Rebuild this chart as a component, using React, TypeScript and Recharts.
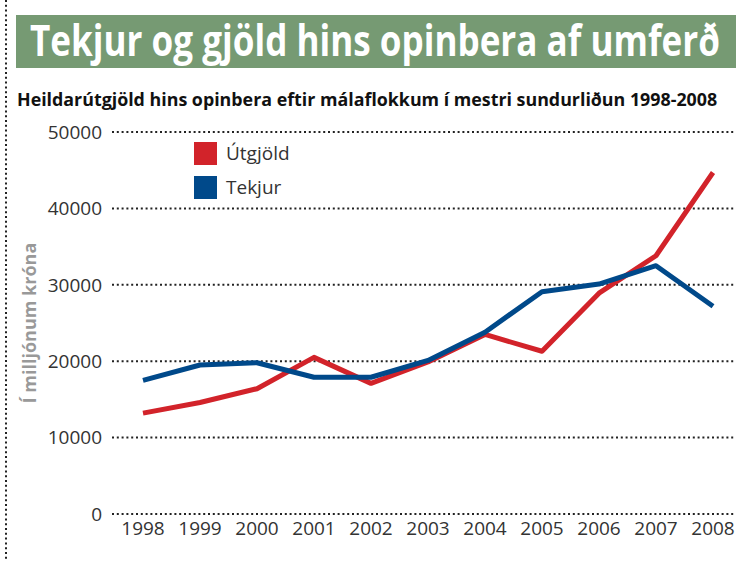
import { useLayoutEffect, useRef, useState } from "react"
import { LineChart, Line, XAxis, YAxis, CartesianGrid } from "recharts"

const years = ["1998", "1999", "2000", "2001", "2002", "2003", "2004", "2005", "2006", "2007", "2008"]
const utgjold = [13200, 14600, 16400, 20500, 17100, 19900, 23500, 21300, 28900, 33800, 44700]
const tekjur = [17500, 19500, 19800, 17900, 17900, 20100, 23800, 29100, 30100, 32500, 27200]
const yTicks = [0, 10000, 20000, 30000, 40000, 50000]

const series = [
  { key: "utgjold", name: "Útgjöld", color: "#d2232a" },
  { key: "tekjur", name: "Tekjur", color: "#00498a" },
]

const data = years.map((y, i) => ({ year: y, utgjold: utgjold[i], tekjur: tekjur[i] }))

const font = "'Open Sans', 'DejaVu Sans', sans-serif"

// squeezes a line of text horizontally so it fills the given width
const Squeezed = ({ text, width, style }: { text: string; width: number; style: React.CSSProperties }) => {
  const ref = useRef<HTMLSpanElement>(null)
  const [scale, setScale] = useState(1)
  useLayoutEffect(() => {
    if (ref.current) setScale(width / ref.current.offsetWidth)
  }, [text, width])
  return (
    <span
      ref={ref}
      style={{
        ...style,
        position: "absolute",
        whiteSpace: "nowrap",
        display: "inline-block",
        transform: `scaleX(${scale})`,
        transformOrigin: "left top",
      }}
    >
      {text}
    </span>
  )
}

// legend: coloured squares with names stacked
const LegendBox = () => (
  <div style={{ position: "absolute", left: 194, top: 136, fontFamily: font }}>
    {series.map((s) => (
      <div key={s.key} style={{ display: "flex", alignItems: "center", height: 34 }}>
        <div style={{ width: 23, height: 23, background: s.color, marginRight: 9 }} />
        <span style={{ fontSize: 19, color: "#333" }}>{s.name}</span>
      </div>
    ))}
  </div>
)

const App = () => {
  return (
    <div style={{ position: "absolute", left: 0, top: 0, width: 736, height: 561, background: "#fff", overflow: "hidden" }}>
      <LineChart width={736} height={561} data={data} margin={{ top: 132, right: 0, bottom: 0, left: 0 }}>
        <CartesianGrid vertical={false} stroke="#222" strokeWidth={2} strokeDasharray="2 2.8" />
        <XAxis
          dataKey="year"
          axisLine={false}
          tickLine={false}
          tickSize={0}
          tickMargin={8}
          height={47}
          interval={0}
          padding={{ left: 31, right: 23 }}
          tick={{ fill: "#333", fontSize: 19, fontFamily: font }}
        />
        <YAxis
          domain={[0, 50000]}
          ticks={yTicks}
          axisLine={false}
          tickLine={false}
          tickSize={0}
          tickMargin={10}
          width={112}
          tick={{ fill: "#333", fontSize: 19, fontFamily: font }}
        />
        {series.map((s) => (
          <Line
            key={s.key}
            dataKey={s.key}
            name={s.name}
            stroke={s.color}
            strokeWidth={5}
            dot={false}
            strokeLinejoin="round"
            isAnimationActive={false}
          />
        ))}
      </LineChart>
      <LegendBox />
      <svg width={736} height={561} style={{ position: "absolute", left: 0, top: 0, pointerEvents: "none" }}>
        <line x1={6} y1={0} x2={6} y2={561} stroke="#222" strokeWidth={2} strokeDasharray="2 2.8" />
        <rect x={16} y={15} width={720} height={53} fill="#769a73" />
        <text
          x={0}
          y={0}
          transform="translate(36, 323) rotate(-90)"
          textAnchor="middle"
          fill="#999"
          fontFamily={font}
          fontWeight={700}
          fontSize={18}
        >
          Í milljónum króna
        </text>
      </svg>
      <Squeezed
        text="Tekjur og gjöld hins opinbera af umferð"
        width={690}
        style={{ left: 30, top: 10, fontFamily: font, fontWeight: 700, fontSize: 43, lineHeight: "60px", color: "#fff" }}
      />
      <Squeezed
        text="Heildarútgjöld hins opinbera eftir málaflokkum í mestri sundurliðun 1998-2008"
        width={700}
        style={{ left: 17, top: 87, fontFamily: font, fontWeight: 700, fontSize: 18, lineHeight: "24px", color: "#111" }}
      />
    </div>
  )
}

export default App
